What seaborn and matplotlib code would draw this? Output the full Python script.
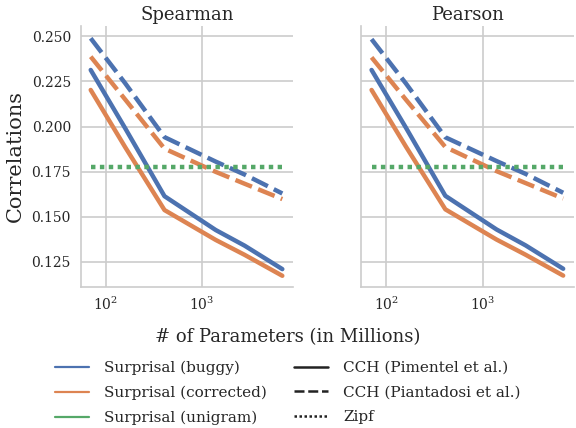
import matplotlib

matplotlib.use("Agg")
import matplotlib.pyplot as plt
from matplotlib.lines import Line2D
import pandas as pd
import seaborn as sns

sns.set_theme(style="whitegrid", font="DejaVu Serif")
plt.rcParams["font.family"] = ["DejaVu Serif"]

# model sizes (millions of parameters)
params = [70, 160, 410, 1400, 2800, 6900]

# Spearman panel
sp_buggy_pim = [0.2314, 0.1990, 0.1613, 0.1425, 0.1338, 0.1208]
sp_corr_pim = [0.2203, 0.1885, 0.1536, 0.1370, 0.1287, 0.1171]
sp_buggy_pia = [0.2490, 0.2240, 0.1941, 0.1805, 0.1733, 0.1628]
sp_corr_pia = [0.2388, 0.2150, 0.1877, 0.1748, 0.1682, 0.1597]
sp_unigram = [0.1775, 0.1775, 0.1775, 0.1775, 0.1775, 0.1775]

# Pearson panel
pe_buggy_pim = [0.2314, 0.1992, 0.1615, 0.1428, 0.1340, 0.1210]
pe_corr_pim = [0.2203, 0.1887, 0.1540, 0.1372, 0.1288, 0.1172]
pe_buggy_pia = [0.2485, 0.2238, 0.1940, 0.1808, 0.1737, 0.1632]
pe_corr_pia = [0.2384, 0.2148, 0.1886, 0.1752, 0.1686, 0.1600]
pe_unigram = [0.1775, 0.1775, 0.1775, 0.1775, 0.1775, 0.1775]

surprisal = ["Surprisal (buggy)", "Surprisal (corrected)", "Surprisal (unigram)"]
hipotez = ["CCH (Pimentel et al.)", "CCH (Piantadosi et al.)", "Zipf"]
RENK = dict(zip(surprisal, sns.color_palette("deep")[:3]))
# seaborn'un varsayilan dash desenleri
CIZGI = {hipotez[0]: "-", hipotez[1]: (0, (4, 1.5)), hipotez[2]: (0, (1, 1))}


def _tablo(panel, seriler):
    satirlar = []
    for (s, h), ys in seriler:
        for x, y in zip(params, ys):
            satirlar.append({"panel": panel, "surprisal": s, "hipotez": h,
                             "params": x, "corr": y})
    return satirlar


satir = _tablo("Spearman", [
    ((surprisal[0], hipotez[0]), sp_buggy_pim),
    ((surprisal[1], hipotez[0]), sp_corr_pim),
    ((surprisal[0], hipotez[1]), sp_buggy_pia),
    ((surprisal[1], hipotez[1]), sp_corr_pia),
    ((surprisal[2], hipotez[2]), sp_unigram),
]) + _tablo("Pearson", [
    ((surprisal[0], hipotez[0]), pe_buggy_pim),
    ((surprisal[1], hipotez[0]), pe_corr_pim),
    ((surprisal[0], hipotez[1]), pe_buggy_pia),
    ((surprisal[1], hipotez[1]), pe_corr_pia),
    ((surprisal[2], hipotez[2]), pe_unigram),
])
df = pd.DataFrame(satir)

fig, eksenler = plt.subplots(1, 2, figsize=(5.76, 4.28), dpi=100, sharey=True)
for ax, panel in zip(eksenler, ["Spearman", "Pearson"]):
    d = df[df.panel == panel]
    for (s, h), g in d.groupby(["surprisal", "hipotez"]):
        sns.lineplot(data=g, x="params", y="corr", color=RENK[s],
                     linestyle=CIZGI[h], linewidth=3.2, ax=ax)
    ax.set_xscale("log")
    ax.set_xlim(55, 9000)
    ax.set_ylim(0.111, 0.256)
    ax.set_yticks([0.125, 0.150, 0.175, 0.200, 0.225, 0.250])
    ax.minorticks_off()
    ax.grid(True, which="major", color="#cccccc", lw=1.2)
    ax.set_title(panel, fontsize=13, pad=4)
    ax.set_xlabel("")
    ax.set_ylabel("")
    ax.tick_params(axis="y", labelsize=10, length=0, pad=7)
    ax.tick_params(axis="x", labelsize=10, pad=0.5)
    sns.despine(ax=ax)
    for k in ["left", "bottom"]:
        ax.spines[k].set_color("#cccccc")
        ax.spines[k].set_linewidth(1.2)

eksenler[0].set_ylabel("Correlations", fontsize=15)
eksenler[0].yaxis.set_label_coords(-0.26, 0.5)
fig.subplots_adjust(left=0.14, right=0.997, top=0.94, bottom=0.33, wspace=0.32)
fig.text(0.5, 0.213, "# of Parameters (in Millions)", ha="center", va="center",
         fontsize=13)

tutamaklar = []
etiketler = []
for s in surprisal:
    tutamaklar.append(Line2D([], [], color=RENK[s], lw=1.6))
    etiketler.append(s)
for h in hipotez:
    tutamaklar.append(Line2D([], [], color="#222222", lw=1.8, linestyle=CIZGI[h]))
    etiketler.append(h)
fig.legend(tutamaklar, etiketler, ncol=2, loc="upper center",
           bbox_to_anchor=(0.5, 0.172), frameon=False, fontsize=11,
           handlelength=2.2, labelspacing=0.7, columnspacing=1.8,
           borderaxespad=0, handletextpad=1.0)

fig.savefig("out.png", dpi=100)
